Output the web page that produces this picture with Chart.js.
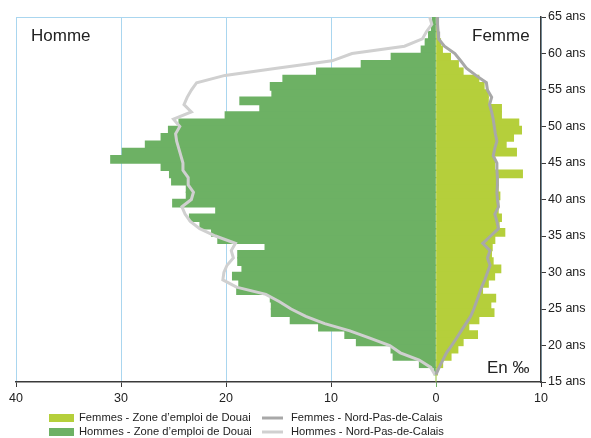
<!DOCTYPE html>
<html>
<head>
<meta charset="utf-8">
<script src="https://cdn.jsdelivr.net/npm/chart.js@4/dist/chart.umd.min.js"></script>
<style>
  html, body { margin: 0; padding: 0; background: #fff; }
  #wrap { position: relative; width: 591px; height: 438px; }
</style>
</head>
<body>
<div id="wrap"><canvas id="pyramid" width="591" height="438"></canvas></div>
<script>
// ages 64 down to 15 (one bar per year of age)
const ages = [64, 63, 62, 61, 60, 59, 58, 57, 56, 55, 54, 53, 52, 51, 50, 49, 48, 47, 46, 45,
              44, 43, 42, 41, 40, 39, 38, 37, 36, 35, 34, 33, 32, 31, 30, 29, 28, 27, 26, 25,
              24, 23, 22, 21, 20, 19, 18, 17, 16, 15];
// per mille, zone d'emploi de Douai
const hommesDouai = [0.35, 0.45, 0.73, 1.05, 1.43, 4.29, 7.14, 11.4, 14.6, 15.8, 15.65, 18.7, 16.8, 20.1, 24.5, 25.5, 26.2, 27.7, 29.9, 31.0,
                     26.2, 25.4, 25.2, 23.8, 23.8, 25.1, 21.0, 23.5, 22.5, 21.4, 20.8, 16.3, 18.9, 18.9, 18.5, 19.4, 18.8, 19.0, 15.8, 15.7,
                     15.7, 13.9, 11.2, 8.7, 7.6, 4.3, 4.1, 1.6, 0.2, 0];
const femmesDouai = [0.05, 0.1, 0.2, 0.45, 0.63, 1.4, 2.15, 2.6, 4.1, 4.6, 5.0, 5.0, 6.25, 6.25, 7.9, 8.16, 7.4, 6.7, 7.68, 5.6,
                     5.6, 8.25, 5.94, 5.94, 6.1, 6.0, 5.94, 6.25, 6.03, 6.57, 5.62, 5.37, 5.3, 5.46, 6.19, 5.6, 5.0, 4.45, 5.7, 5.24,
                     5.54, 4.1, 3.14, 3.97, 2.6, 2.1, 1.45, 0.65, 0.15, 0];

// Nord-Pas-de-Calais reference lines, one point per year boundary (65 down to 16)
const lineAges = [65, 64, 63, 62, 61, 60, 59, 58, 57, 56, 55, 54, 53, 52, 51, 50, 49, 48, 47, 46, 45,
                  44, 43, 42, 41, 40, 39, 38, 37, 36, 35, 34, 33, 32, 31, 30, 29, 28, 27, 26, 25,
                  24, 23, 22, 21, 20, 19, 18, 17, 16];
const hommesNpdc = [0.6, 0.4, 0.9, 1.3, 3.0, 8.0, 9.9, 15.0, 20.1, 22.8, 23.3, 23.7, 24.0, 23.3, 25.0, 24.4, 24.8, 24.7, 24.5, 24.3, 24.1,
                    24.1, 23.6, 23.6, 23.1, 23.3, 24.2, 23.9, 23.4, 22.5, 21.0, 19.1, 19.5, 19.3, 19.9, 20.2, 20.3, 19.0, 16.2, 14.9, 13.8,
                    12.4, 10.6, 8.2, 6.3, 4.4, 3.4, 1.6, 0.5, 0.1];
const femmesNpdc = [0.15, 0.15, 0.2, 0.25, 0.8, 1.8, 2.35, 2.9, 3.8, 4.8, 4.9, 5.3, 5.1, 5.3, 5.45, 5.55, 5.65, 5.8, 5.6, 5.45, 5.8,
                    5.8, 5.85, 5.85, 5.8, 5.85, 5.95, 5.6, 5.8, 5.95, 5.2, 4.45, 5.15, 4.9, 5.15, 4.9, 4.65, 4.35, 4.1, 3.85, 3.6,
                    3.3, 2.85, 2.4, 1.95, 1.5, 1.0, 0.65, 0.3, 0.0];

const xTicks = [-40, -30, -20, -10, 0, 10];

const colFemmes = '#b5cf3b';
const colHommes = '#6db164';
const colLineF = '#a8a8a8';
const colLineH = '#d0d0d0';
const gridBlue = '#aad6ef';
const axisDark = '#3a3a3a';
const fontFam = '"Liberation Sans", Arial, sans-serif';

// draws the Homme / Femme / En ‰ labels and the two-column legend
const extras = {
    id: 'extras',
    afterDraw(chart) {
        const ctx = chart.ctx;
        ctx.save();
        ctx.fillStyle = '#222';
        ctx.textBaseline = 'middle';
        ctx.font = '17px ' + fontFam;
        ctx.fillText('Homme', 31, 36);
        ctx.fillText('Femme', 472, 36);
        ctx.fillText('En \u2030', 487, 368);

        ctx.font = '11.2px ' + fontFam;
        const rows = [
            { y: 418, swatch: colFemmes, text: 'Femmes - Zone d\u2019emploi de Douai', line: colLineF, text2: 'Femmes - Nord-Pas-de-Calais' },
            { y: 432, swatch: colHommes, text: 'Hommes - Zone d\u2019emploi de Douai', line: colLineH, text2: 'Hommes - Nord-Pas-de-Calais' }
        ];
        rows.forEach(r => {
            ctx.fillStyle = r.swatch;
            ctx.fillRect(49, r.y - 4, 25, 8);
            ctx.fillStyle = '#222';
            ctx.fillText(r.text, 79, r.y);
            ctx.strokeStyle = r.line;
            ctx.lineWidth = 3;
            ctx.beginPath();
            ctx.moveTo(262, r.y);
            ctx.lineTo(283, r.y);
            ctx.stroke();
            ctx.fillText(r.text2, 291, r.y);
        });
        ctx.restore();
    }
};

new Chart(document.getElementById('pyramid'), {
    type: 'bar',
    data: {
        datasets: [
            {
                label: 'Femmes - Nord-Pas-de-Calais',
                type: 'line',
                indexAxis: 'y',
                data: lineAges.map((a, i) => ({ x: femmesNpdc[i], y: a })),
                borderColor: colLineF,
                borderWidth: 3,
                pointRadius: 0,
                fill: false,
                tension: 0,
                order: 0
            },
            {
                label: 'Hommes - Nord-Pas-de-Calais',
                type: 'line',
                indexAxis: 'y',
                data: lineAges.map((a, i) => ({ x: -hommesNpdc[i], y: a })),
                borderColor: colLineH,
                borderWidth: 3,
                pointRadius: 0,
                fill: false,
                tension: 0,
                order: 0
            },
            {
                label: 'Femmes - Zone d\u2019emploi de Douai',
                data: ages.map((a, i) => ({ x: femmesDouai[i], y: a + 0.5 })),
                backgroundColor: colFemmes,
                borderWidth: 0,
                stack: 'pyr',
                barThickness: 8,
                order: 1
            },
            {
                label: 'Hommes - Zone d\u2019emploi de Douai',
                data: ages.map((a, i) => ({ x: -hommesDouai[i], y: a + 0.5 })),
                backgroundColor: colHommes,
                borderWidth: 0,
                stack: 'pyr',
                barThickness: 8,
                order: 1
            }
        ]
    },
    options: {
        indexAxis: 'y',
        responsive: false,
        animation: false,
        layout: { padding: { left: 16, top: 17, right: 0, bottom: 32 } },
        plugins: {
            legend: { display: false },
            tooltip: { enabled: false }
        },
        scales: {
            x: {
                type: 'linear',
                min: -40,
                max: 10,
                offset: false,
                afterBuildTicks: scale => { scale.ticks = xTicks.map(v => ({ value: v })); },
                afterFit: scale => { scale.height = 24; },
                ticks: {
                    color: '#222',
                    padding: 4,
                    maxRotation: 0,
                    font: { family: fontFam, size: 12.5 },
                    callback: v => Math.abs(v)
                },
                grid: {
                    color: ctx => (ctx.tick && ctx.tick.value === 0 ? 'rgba(0,0,0,0)' : gridBlue),
                    tickColor: ctx => (ctx.tick && ctx.tick.value === 0 ? colHommes : axisDark),
                    tickLength: 5,
                    lineWidth: 1,
                    offset: false
                },
                border: { color: axisDark, width: 1.5 }
            },
            y: {
                type: 'linear',
                position: 'right',
                min: 15,
                max: 65,
                offset: false,
                afterFit: scale => { scale.width = 50; },
                ticks: {
                    stepSize: 5,
                    color: '#222',
                    padding: 2,
                    font: { family: fontFam, size: 12.5 },
                    callback: v => v + ' ans'
                },
                grid: {
                    offset: false,
                    color: ctx => (ctx.tick && ctx.tick.value === 65 ? gridBlue : 'rgba(0,0,0,0)'),
                    tickColor: axisDark,
                    tickLength: 5
                },
                border: { color: axisDark, width: 1.5 }
            }
        }
    },
    plugins: [extras]
});
</script>
</body>
</html>
